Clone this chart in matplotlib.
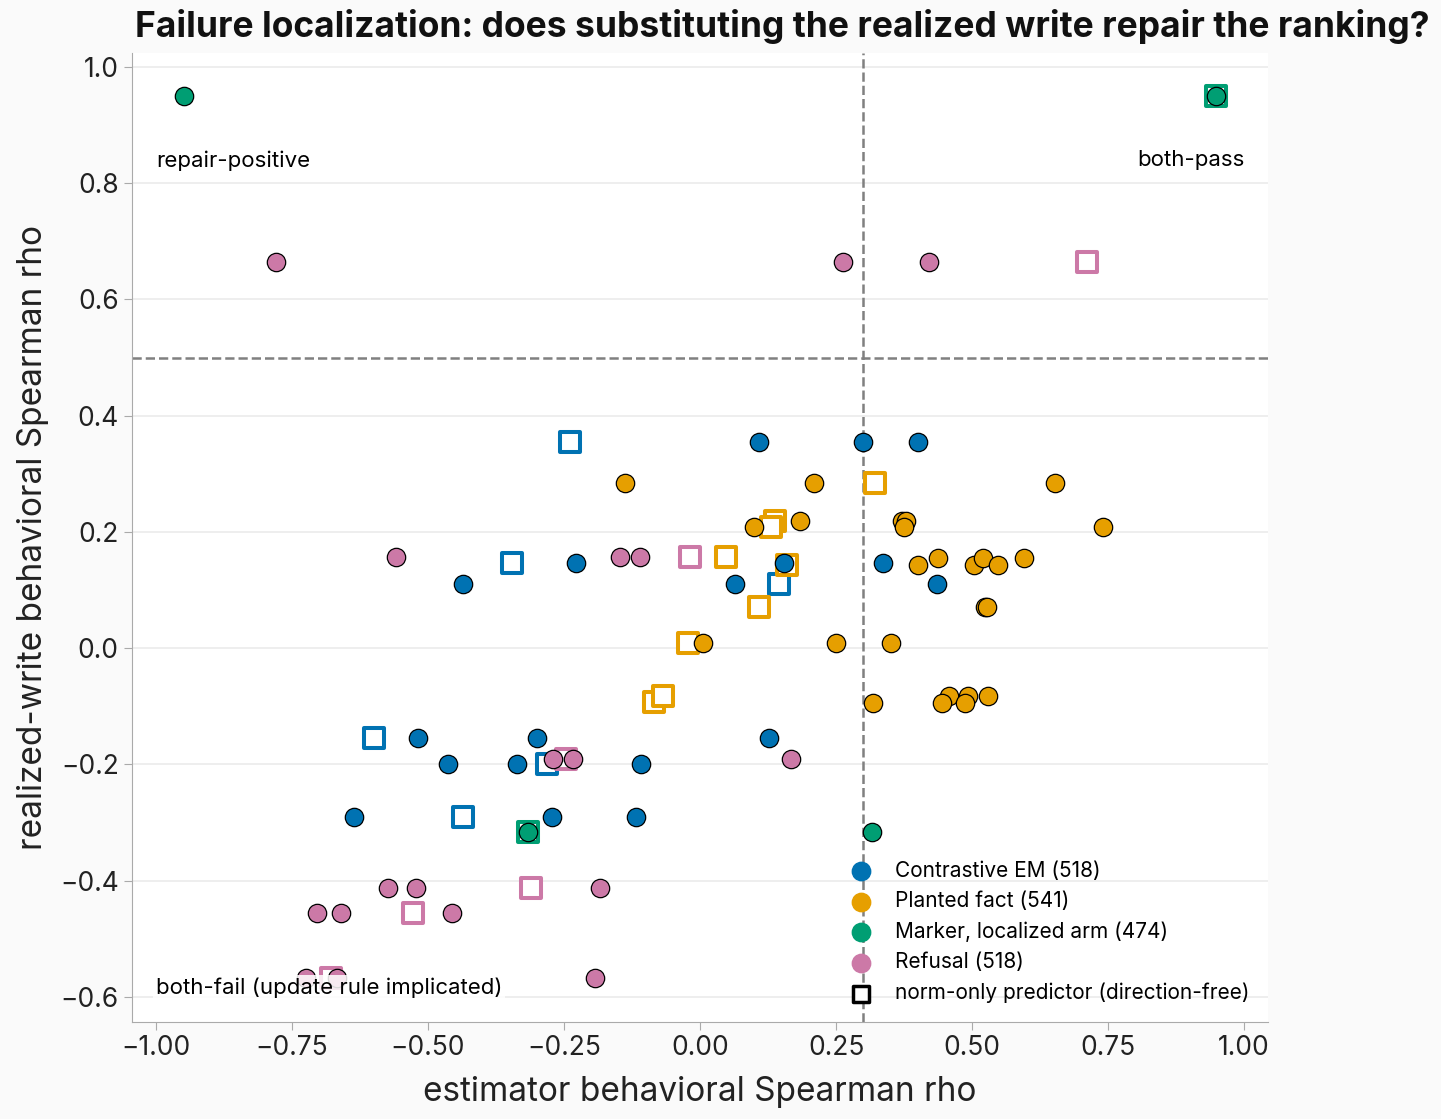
import numpy as np
import matplotlib.pyplot as plt

plt.rcParams['font.family'] = ['Inter', 'DejaVu Sans']

# estimator rho (x) vs realized-write rho (y), per config
em_x = [0.108, 0.300, 0.401, -0.228, -0.436, 0.064, 0.154, 0.336, 0.436,
        -0.518, -0.463, -0.300, -0.336, -0.108, 0.127, -0.636, -0.272, -0.118]
em_y = [0.354, 0.354, 0.354, 0.146, 0.110, 0.110, 0.146, 0.146, 0.110,
        -0.155, -0.200, -0.155, -0.200, -0.200, -0.155, -0.291, -0.291, -0.291]
em_norm_x = [-0.239, -0.346, 0.145, -0.599, -0.281, -0.436]
em_norm_y = [0.354, 0.146, 0.110, -0.155, -0.200, -0.291]

pf_x = [-0.138, 0.210, 0.099, 0.184, 0.371, 0.378, 0.375, 0.653, 0.741,
        0.401, 0.438, 0.504, 0.520, 0.548, 0.596, 0.524, 0.528,
        0.351, 0.250, 0.005, 0.318, 0.458, 0.445, 0.493, 0.487, 0.530]
pf_y = [0.284, 0.284, 0.208, 0.218, 0.218, 0.218, 0.208, 0.284, 0.208,
        0.143, 0.155, 0.143, 0.155, 0.143, 0.155, 0.071, 0.071,
        0.009, 0.009, 0.009, -0.095, -0.083, -0.095, -0.083, -0.095, -0.083]
pf_norm_x = [0.322, 0.138, 0.130, 0.047, 0.160, 0.108, -0.022, -0.085, -0.068]
pf_norm_y = [0.284, 0.218, 0.208, 0.157, 0.143, 0.071, 0.009, -0.093, -0.083]

mk_x = [-0.949, 0.949, -0.316, 0.316]
mk_y = [0.950, 0.950, -0.317, -0.317]
mk_norm_x = [0.949, -0.316]
mk_norm_y = [0.950, -0.317]

rf_x = [-0.779, 0.263, 0.421, -0.559, -0.147, -0.110, -0.270, -0.233, 0.167,
        -0.574, -0.522, -0.704, -0.660, -0.456, -0.184, -0.193, -0.724, -0.667]
rf_y = [0.664, 0.664, 0.664, 0.157, 0.157, 0.157, -0.191, -0.191, -0.191,
        -0.413, -0.413, -0.456, -0.456, -0.456, -0.413, -0.568, -0.568, -0.568]
rf_norm_x = [0.711, -0.018, -0.246, -0.311, -0.528, -0.678]
rf_norm_y = [0.664, 0.157, -0.191, -0.413, -0.456, -0.568]

series = [
    ('Contrastive EM (518)', '#0072B2', em_x, em_y, em_norm_x, em_norm_y),
    ('Planted fact (541)', '#E69F00', pf_x, pf_y, pf_norm_x, pf_norm_y),
    ('Marker, localized arm (474)', '#009E73', mk_x, mk_y, mk_norm_x, mk_norm_y),
    ('Refusal (518)', '#CC79A7', rf_x, rf_y, rf_norm_x, rf_norm_y),
]

fig = plt.figure(figsize=(14.41, 11.19), dpi=100, facecolor='#fafafa')
ax = fig.add_axes([0.0916, 0.0867, 0.7884, 0.866])
ax.set_facecolor('white')

# norm-only squares first, circles on top
for name, c, x, y, nx, ny in series:
    ax.scatter(nx, ny, marker='s', s=207, facecolor='white', edgecolor=c,
               linewidth=2.9, zorder=3)
for name, c, x, y, nx, ny in series:
    ax.scatter(x, y, marker='o', s=175, color=c, edgecolor='black',
               linewidth=0.9, zorder=4)

ax.axvline(0.3, color='#808080', ls='--', lw=1.8, zorder=2)
ax.axhline(0.5, color='#808080', ls='--', lw=1.8, zorder=2)

ax.set_xlim(-1.044, 1.044)
ax.set_ylim(-0.643, 1.024)
ax.set_xticks(np.arange(-1.0, 1.01, 0.25))
ax.set_xticklabels([f'{v:.2f}'.replace('-', '\u2212') for v in np.arange(-1.0, 1.01, 0.25)])
ax.set_yticks(np.arange(-0.6, 1.01, 0.2))
ax.set_yticklabels([f'{v:.1f}'.replace('-', '\u2212') for v in np.arange(-0.6, 1.01, 0.2)])
ax.tick_params(labelsize=19, color='#aaaaaa', length=6, labelcolor='#222222')
ax.grid(axis='y', color='#ebebeb', lw=1.2, zorder=0)
ax.set_axisbelow(True)
for sp in ['top', 'right']:
    ax.spines[sp].set_visible(False)
for sp in ['left', 'bottom']:
    ax.spines[sp].set_color('#aaaaaa')

ax.set_xlabel('estimator behavioral Spearman rho', fontsize=24, color='#222222', labelpad=11)
ax.set_ylabel('realized-write behavioral Spearman rho', fontsize=24, color='#222222', labelpad=8)

box = dict(facecolor='white', edgecolor='none', alpha=0.85, pad=2)
ax.text(-1.0, 0.839, 'repair-positive', fontsize=16, ha='left', va='center', bbox=box, zorder=5)
ax.text(1.0, 0.839, 'both-pass', fontsize=16, ha='right', va='center', bbox=box, zorder=5)
ax.text(-1.0, -0.584, 'both-fail (update rule implicated)', fontsize=16,
        ha='left', va='center', bbox=box, zorder=5)

handles = []
for name, c, x, y, nx, ny in series:
    handles.append(ax.scatter([], [], marker='o', s=175, color=c, label=name))
handles.append(ax.scatter([], [], marker='s', s=120, facecolor='white',
                          edgecolor='black', linewidth=2.5,
                          label='norm-only predictor (direction-free)'))
ax.legend(handles=handles, loc='lower right', frameon=False, fontsize=15,
          handletextpad=0.6, labelspacing=0.5, borderaxespad=0.5)

fig.text(0.543, 0.9765, 'Failure localization: does substituting the realized write repair the ranking?',
         fontsize=25.5, fontweight='bold', ha='center', va='center', color='#111111')

fig.savefig('out.png', dpi=100, facecolor=fig.get_facecolor())
